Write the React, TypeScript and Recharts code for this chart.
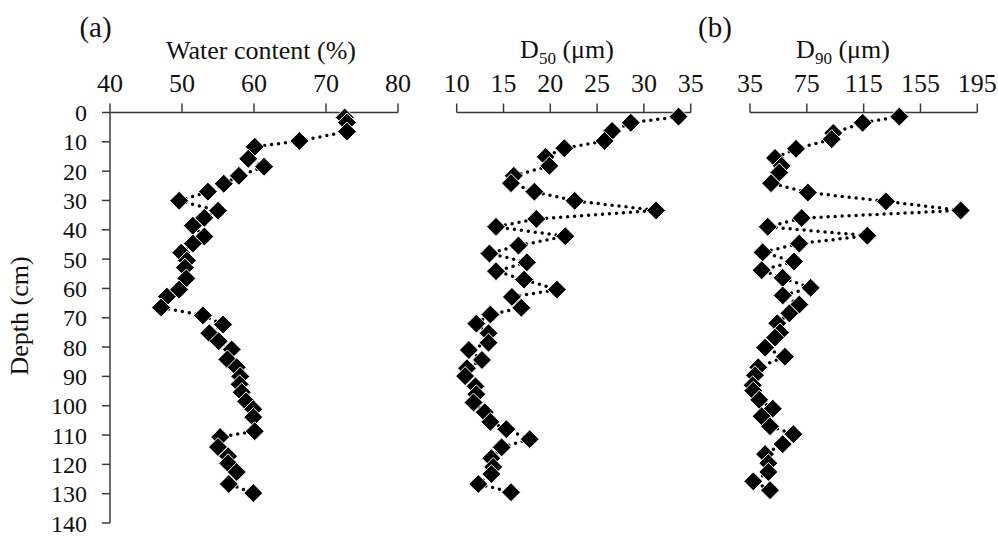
import { Scatter, ScatterChart, XAxis, YAxis } from 'recharts';

// depth (cm) of each sample, read per panel
const depthWc = [
  1.7, 3.4, 6.5, 9.7, 11.7, 15.8, 18.5, 21.6, 24.3, 27, 30.1, 33.5, 35.9, 38.6, 42.3, 44.7, 47.8, 50.5, 52.9, 56.6,
  60.4, 62.8, 66.5, 69.2, 72.3, 75.3, 78, 80.8, 84.2, 86.9, 90, 92.7, 95.4, 98.5, 101.2, 103.9, 108.7, 110.7, 114.1,
  117.2, 119.6, 122.6, 126.7, 129.8,
];
const waterContent = [
  72.6, 72.9, 72.9, 66.3, 60.1, 59.2, 61.4, 57.9, 55.8, 53.6, 49.6, 55.0, 53.1, 51.5, 53.1, 51.5, 49.9, 50.7, 50.4, 50.6,
  49.6, 47.9, 47.1, 52.9, 55.7, 53.8, 55.1, 56.9, 56.3, 57.6, 58.1, 58.0, 58.3, 58.9, 59.9, 59.9, 60.1, 55.3, 55.0,
  56.4, 56.4, 57.6, 56.5, 59.9,
];

const depthD50 = [
  1.4, 3.5, 6.3, 9.7, 12.2, 15.1, 18.2, 21.6, 24.1, 27, 30.1, 33.4, 36.3, 39, 42.2, 45.4, 48.1, 51.1, 54.1, 57,
  60.4, 62.9, 66.6, 68.9, 72, 75.3, 78.5, 81, 84.4, 87.2, 89.9, 93.4, 96.1, 98.9, 102.2, 105.5, 108, 111.4, 114.2,
  117.9, 120.9, 123.3, 126.7, 129.5,
];
const d50 = [
  33.7, 28.6, 26.6, 25.8, 21.5, 19.5, 19.9, 16.1, 15.8, 18.3, 22.6, 31.3, 18.5, 14.2, 21.6, 16.6, 13.5, 17.5, 14.2, 17.2,
  20.7, 15.9, 16.9, 13.6, 12.1, 13.4, 13.4, 11.3, 12.7, 11.1, 10.9, 12.0, 12.1, 11.8, 13.0, 13.6, 15.3, 17.8, 14.8,
  13.7, 13.9, 13.7, 12.3, 15.8,
];

const depthD90 = [
  1.4, 3.5, 7, 9.1, 12.4, 15.5, 18.2, 20.5, 24.1, 27.3, 30.3, 33.4, 36, 39, 42, 44.7, 47.7, 50.8, 53.8, 56.4,
  59.8, 62.4, 65.5, 68.5, 71.9, 75, 76.8, 80.2, 83.3, 86.9, 89.6, 93, 94.9, 98, 101, 103.6, 107, 109.7, 113.1,
  116.5, 119.6, 122.6, 125.8, 128.8,
];
const d90 = [
  140.1, 114.3, 93.6, 92.5, 67.4, 52.6, 57.3, 55.6, 49.8, 75.7, 130.7, 183.3, 71.4, 47.5, 117.6, 69.7, 43.9, 66, 43.2, 58,
  77.7, 58, 69.7, 62.7, 54.2, 56.1, 52.6, 45.6, 59.6, 40.8, 38.5, 36.9, 37.3, 41.5, 51, 43.2, 49.1, 65.5, 58,
  45.6, 47.9, 47.9, 37.3, 49.1,
];

const wcTicks = [40, 50, 60, 70, 80];
const d50Ticks = [10, 15, 20, 25, 30, 35];
const d90Ticks = [35, 75, 115, 155, 195];
const depthTicks = [0, 10, 20, 30, 40, 50, 60, 70, 80, 90, 100, 110, 120, 130, 140];

const FONT = 'Liberation Serif, Times New Roman, serif';
const AXIS = '#3a3a3a';
const W = 998;
const H = 536;
const PLOT_TOP = 112.5;
const PLOT_BOTTOM = 523;

const Diamond = (props: any) => {
  const { cx, cy } = props;
  const r = 9.5;
  return (
    <path
      d={`M${cx},${cy - r}L${cx + r},${cy}L${cx},${cy + r}L${cx - r},${cy}Z`}
      fill="#000"
      stroke="#fff"
      strokeWidth={1}
    />
  );
};

const dotted = { stroke: '#000', strokeWidth: 3.5, strokeDasharray: '0 7', strokeLinecap: 'round' };

function Panel({
  depth,
  values,
  ticks,
  left,
  right,
  showDepth,
}: {
  depth: number[];
  values: number[];
  ticks: number[];
  left: number;
  right: number;
  showDepth: boolean;
}) {
  const data = depth.map((d, i) => ({ depth: d, x: values[i] }));
  const yWidth = showDepth ? 60 : 0;
  return (
    <ScatterChart
      width={W}
      height={H}
      style={{ position: 'absolute', left: 0, top: 0, fontFamily: FONT }}
      margin={{ top: PLOT_TOP - 60, bottom: H - PLOT_BOTTOM, left: left - yWidth, right: W - right }}
    >
      <XAxis
        type="number"
        dataKey="x"
        orientation="top"
        domain={[ticks[0], ticks[ticks.length - 1]]}
        ticks={ticks}
        interval={0}
        height={60}
        tickSize={9}
        tickMargin={12}
        axisLine={{ stroke: AXIS, strokeWidth: 1.5 }}
        tickLine={{ stroke: AXIS, strokeWidth: 1.5 }}
        tick={{ fill: '#111', fontSize: 26, fontFamily: FONT }}
      />
      <YAxis
        type="number"
        dataKey="depth"
        reversed
        domain={[0, 140]}
        ticks={depthTicks}
        interval={0}
        hide={!showDepth}
        width={yWidth}
        tickSize={8}
        tickMargin={15}
        axisLine={{ stroke: AXIS, strokeWidth: 1.5 }}
        tickLine={{ stroke: AXIS, strokeWidth: 1.5 }}
        tick={{ fill: '#111', fontSize: 24, fontFamily: FONT }}
      />
      <Scatter data={data} fill="#000" line={dotted} lineType="joint" shape={Diamond} isAnimationActive={false} />
    </ScatterChart>
  );
}

export default function App() {
  return (
    <div
      style={{
        position: 'absolute',
        left: 0,
        top: 0,
        width: W,
        height: H,
        background: '#fff',
        overflow: 'hidden',
        fontFamily: FONT,
      }}
    >
      <Panel depth={depthWc} values={waterContent} ticks={wcTicks} left={110} right={398} showDepth />
      <Panel depth={depthD50} values={d50} ticks={d50Ticks} left={456.7} right={690.7} showDepth={false} />
      <Panel depth={depthD90} values={d90} ticks={d90Ticks} left={750} right={977.3} showDepth={false} />
      <svg width={W} height={H} style={{ position: 'absolute', left: 0, top: 0, pointerEvents: 'none', fontFamily: FONT }}>
        <g fill="#111">
          <text x={95.5} y={36.5} fontSize={29} textAnchor="middle">(a)</text>
          <text x={715} y={36.5} fontSize={29} textAnchor="middle">(b)</text>
          <text x={261} y={59} fontSize={26} textAnchor="middle">Water content (%)</text>
          <text x={567} y={58} fontSize={26} textAnchor="middle">
            D<tspan fontSize={17} dy={6}>50</tspan>
            <tspan dy={-6}> (μm)</tspan>
          </text>
          <text x={843} y={58} fontSize={26} textAnchor="middle">
            D<tspan fontSize={17} dy={6}>90</tspan>
            <tspan dy={-6}> (μm)</tspan>
          </text>
          <text transform="translate(28,316) rotate(-90)" fontSize={26} textAnchor="middle">Depth (cm)</text>
        </g>
      </svg>
    </div>
  );
}
